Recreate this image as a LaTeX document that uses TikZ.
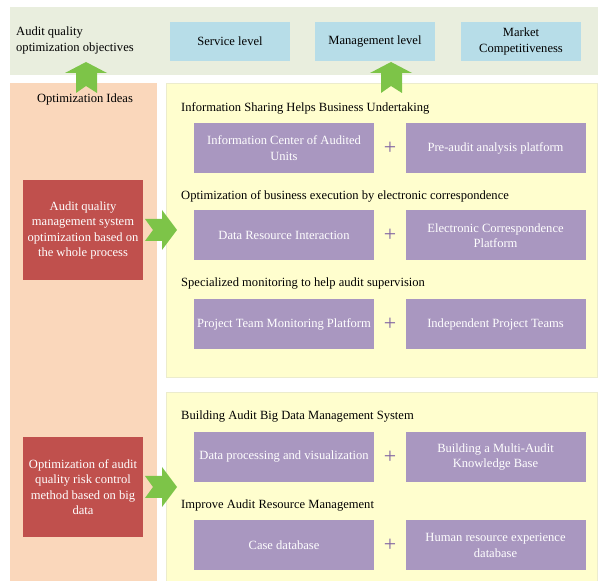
\documentclass[tikz,border=0pt]{standalone}
\usepackage{fontspec}
\setmainfont{Liberation Serif}
\definecolor{bandcol}{RGB}{233,238,222}
\definecolor{goalcol}{RGB}{183,221,232}
\definecolor{ideacol}{RGB}{250,215,187}
\definecolor{methodcol}{RGB}{192,80,77}
\definecolor{panelcol}{RGB}{255,254,206}
\definecolor{panelline}{RGB}{236,236,205}
\definecolor{itemcol}{RGB}{169,151,192}
\definecolor{pluscol}{RGB}{128,100,162}
\definecolor{arrowcol}{RGB}{125,196,72}
\tikzset{
  txt/.style={font=\fontsize{12.6}{15.5}\selectfont},
  goalbox/.style={txt,fill=goalcol,minimum width=120bp,minimum height=39bp,align=center,inner sep=1bp},
  methodbox/.style={txt,fill=methodcol,text=white,minimum width=120bp,minimum height=100bp,align=center,inner sep=0bp},
  itembox/.style={txt,fill=itemcol,text=white,minimum width=180bp,minimum height=50bp,align=center,inner sep=0bp},
  heading/.style={txt,anchor=west,inner sep=0bp},
  plussign/.style={text=pluscol,font=\fontsize{22}{22}\selectfont,inner sep=0bp},
}
\begin{document}
\begin{tikzpicture}[x=1bp,y=1bp]
\useasboundingbox (0,0) rectangle (598,581);
%%
\fill[bandcol] (10,506) rectangle (598,574);
\fill[ideacol] (10,0) rectangle (157,498);
\filldraw[fill=panelcol,draw=panelline] (166,204) rectangle (597,498);
\filldraw[fill=panelcol,draw=panelline] (166,0) rectangle (597,189);
%%
  \node (goal) at (16,540.5) [txt,anchor=west,align=left,inner sep=0bp] {Audit quality\\ optimization objectives};
  \node (service) at (230,539.5) [goalbox] {Service level};
  \node (manage) at (375,539.5) [goalbox] {Management level};
  \node (market) at (521,539.5) [goalbox] {Market\\ Competitiveness};
  \node (ideas) at (85,482) [txt] {Optimization Ideas};
%%
  \node (method1) at (83,350.5) [methodbox] {Audit quality\\ management system\\ optimization based on\\ the whole process};
  \node (method2) at (83,94) [methodbox] {Optimization of audit\\ quality risk control\\ method based on big\\ data};
%%
  \node (head1) at (181,473) [heading] {Information Sharing Helps Business Undertaking};
  \node (center) at (284,433) [itembox] {Information Center of Audited\\ Units};
  \node (preaudit) at (495.5,433) [itembox] {Pre-audit analysis platform};
  \node (plus1) at (390,433) [plussign] {+};
  \node (head2) at (181,385) [heading] {Optimization of business execution by electronic correspondence};
  \node (resource) at (284,345.5) [itembox] {Data Resource Interaction};
  \node (ecorr) at (495.5,345.5) [itembox] {Electronic Correspondence\\ Platform};
  \node (plus2) at (390,345.5) [plussign] {+};
  \node (head3) at (181,297) [heading] {Specialized monitoring to help audit supervision};
  \node (monitor) at (284,257) [itembox] {Project Team Monitoring Platform};
  \node (teams) at (495.5,257) [itembox] {Independent Project Teams};
  \node (plus3) at (390,257) [plussign] {+};
%%
  \node (head4) at (181,164) [heading] {Building Audit Big Data Management System};
  \node (visual) at (284,124) [itembox] {Data processing and visualization};
  \node (knowledge) at (495.5,124) [itembox] {Building a Multi-Audit\\ Knowledge Base};
  \node (plus4) at (390,124) [plussign] {+};
  \node (head5) at (181,75) [heading] {Improve Audit Resource Management};
  \node (cases) at (284,35.5) [itembox] {Case database};
  \node (human) at (495.5,35.5) [itembox] {Human resource experience\\ database};
  \node (plus5) at (390,35.5) [plussign] {+};
%%
\fill[arrowcol] (86,519) -- (107,508) -- (97,508) -- (97,488) -- (86,495) -- (76,488) -- (76,508) -- (65,508) -- cycle;
\fill[arrowcol] (391,519) -- (412,508) -- (402,508) -- (402,488) -- (391,495) -- (381,488) -- (381,508) -- (370,508) -- cycle;
\fill[arrowcol] (177,351) -- (162,371) -- (162,362) -- (145,362) -- (153,351) -- (145,340) -- (162,340) -- (162,331) -- cycle;
\fill[arrowcol] (177,94) -- (162,114) -- (162,105) -- (145,105) -- (153,94) -- (145,83) -- (162,83) -- (162,74) -- cycle;
%
\end{tikzpicture}
\end{document}
